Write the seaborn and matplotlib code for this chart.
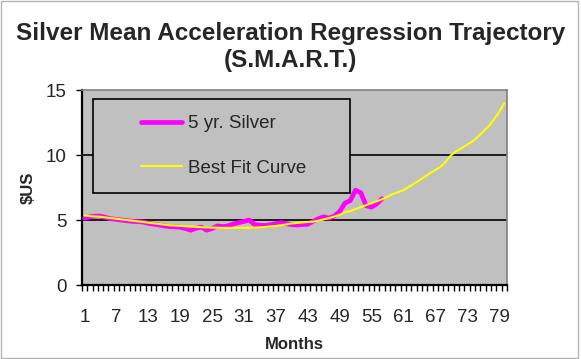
import matplotlib
matplotlib.use("Agg")
import matplotlib.pyplot as plt
from matplotlib.patches import Rectangle
from matplotlib.lines import Line2D
import seaborn as sns
import pandas as pd

# monthly silver price, $US (months 1..57)
silver = [5.15, 5.25, 5.30, 5.30, 5.20, 5.10, 5.05, 5.00, 4.95, 4.90,
          4.88, 4.85, 4.75, 4.68, 4.62, 4.55, 4.50, 4.48, 4.45, 4.35,
          4.22, 4.38, 4.45, 4.22, 4.35, 4.55, 4.50, 4.55, 4.70, 4.80,
          4.90, 5.00, 4.65, 4.60, 4.58, 4.65, 4.72, 4.80, 4.72, 4.65,
          4.62, 4.65, 4.68, 4.90, 5.10, 5.25, 5.15, 5.30, 5.65, 6.30,
          6.50, 7.30, 7.10, 6.10, 6.00, 6.25, 6.65]

# best fit curve (months 1..80)
best_fit = [5.35, 5.30, 5.28, 5.25, 5.20, 5.15, 5.10, 5.05, 5.00, 4.95,
            4.90, 4.85, 4.80, 4.75, 4.70, 4.65, 4.60, 4.58, 4.55, 4.52,
            4.50, 4.48, 4.45, 4.43, 4.42, 4.41, 4.40, 4.40, 4.40, 4.40,
            4.40, 4.41, 4.42, 4.44, 4.47, 4.52, 4.55, 4.60, 4.67, 4.74,
            4.78, 4.82, 4.85, 4.87, 4.95, 5.05, 5.15, 5.27, 5.40, 5.60,
            5.70, 5.85, 6.00, 6.15, 6.30, 6.45, 6.60, 6.80, 7.00, 7.15,
            7.30, 7.55, 7.80, 8.05, 8.33, 8.60, 8.85, 9.10, 9.50, 10.00,
            10.30, 10.55, 10.80, 11.05, 11.40, 11.80, 12.20, 12.70, 13.30, 14.00]

tick_labels = [str(m) for m in range(1, 80, 6)]

df_silver = pd.DataFrame({"month": range(1, len(silver) + 1), "price": silver})
df_fit = pd.DataFrame({"month": range(1, len(best_fit) + 1), "price": best_fit})

sns.set_style("white")
plt.rcParams["font.family"] = ["Liberation Sans", "DejaVu Sans"]

fig = plt.figure(figsize=(5.81, 3.59), dpi=100)
fig.patches.append(Rectangle((0.001, 0.002), 0.994, 0.995, transform=fig.transFigure,
                             fill=False, ec="#b4b4b4", lw=1))
ax = fig.add_axes([0.141, 0.206, 0.7315, 0.543])
ax.set_facecolor("#c0c0c0")

for y in [5, 10]:
    ax.axhline(y, color="black", lw=1.2, zorder=1)

sns.lineplot(data=df_silver, x="month", y="price", color="#ff00ff", lw=3.4,
             ax=ax, zorder=4)
sns.lineplot(data=df_fit, x="month", y="price", color="#ffff00", lw=1.5,
             ax=ax, zorder=5)

ax.set_xlim(0.5, 80.5)
ax.set_ylim(0, 15)
ax.set_yticks([0, 5, 10, 15])
ax.set_xticks(range(1, 80, 6))
ax.set_xticklabels(tick_labels)
ax.set_xticks([m + 0.5 for m in range(0, 81)], minor=True)
ax.tick_params(axis="y", which="major", length=4.5, width=1, color="black",
               left=True, labelsize=13.5, pad=6.5)
ax.tick_params(axis="x", which="major", length=0, labelsize=13.5, pad=17)
ax.tick_params(axis="x", which="minor", length=4, width=1, color="black", bottom=True)

for side in ["top", "right"]:
    ax.spines[side].set_color("#808080")
    ax.spines[side].set_linewidth(1.2)
for side in ["left", "bottom"]:
    ax.spines[side].set_color("black")
    ax.spines[side].set_linewidth(1.6)

ax.set_xlabel("Months", fontsize=12, fontweight="bold", labelpad=8)
ax.set_ylabel("$US", fontsize=12, fontweight="bold", labelpad=7)

fig.suptitle("Silver Mean Acceleration Regression Trajectory\n(S.M.A.R.T.)",
             fontsize=17.5, fontweight="bold", y=0.94, linespacing=1.25)

# legend box
ax.add_patch(Rectangle((0.026, 0.472), 0.604, 0.482, transform=ax.transAxes,
                       fc="#c0c0c0", ec="black", lw=1.2, zorder=3))
handles = [Line2D([], [], color="#ff00ff", lw=3.4),
           Line2D([], [], color="#ffff00", lw=1.5)]
leg = ax.legend(handles, ["5 yr. Silver", "Best Fit Curve"], loc="center",
                bbox_to_anchor=(0.333, 0.713), frameon=False, fontsize=13.5,
                handlelength=2.2, handletextpad=0.3, labelspacing=1.45)
leg.set_zorder(6)

fig.savefig("out.png", dpi=100)
